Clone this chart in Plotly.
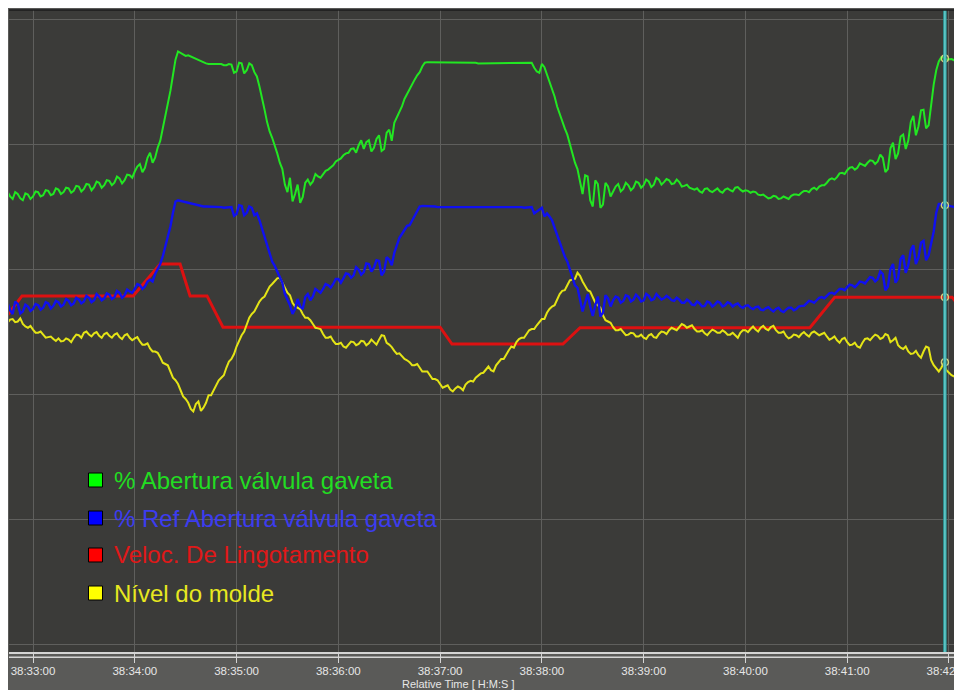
import plotly.graph_objects as go

# ---------------- data ----------------
# sample clock: seconds relative to 38:33:00. Main samples every 3 s
# (-15 .. 549) and in-between samples at +1.5 s (-13.5 .. 547.5).
time_s = list(range(-15, 550, 3))
time_mid = [t + 1.5 for t in time_s[:-1]]

abertura = [
    72.4, 71.2, 72.0, 71.0, 71.9, 71.6, 72.3, 71.8, 72.5, 72.0,
    72.7, 72.3, 72.9, 72.5, 73.2, 72.8, 73.5, 73.1, 73.8, 73.4,
    74.1, 73.8, 74.5, 74.2, 75.0, 75.6, 76.8, 76.2, 78.6, 77.8,
    80.5, 84.0, 88.5, 93.5, 94.6, 94.1, 94.0, 93.7, 93.3, 92.9,
    92.8, 92.7, 92.8, 92.6, 92.7, 91.6, 92.9, 91.8, 92.6, 90.8,
    87.5, 83.5, 81.0, 78.5, 76.0, 72.3, 70.8, 73.5, 71.5, 74.3,
    74.0, 74.8, 75.2, 75.9, 76.6, 77.5, 78.2, 78.6, 79.3, 79.8,
    79.2, 80.6, 79.4, 81.4, 79.2, 82.3, 83.4, 85.2, 87.2, 88.8,
    90.3, 91.5, 93.0, 93.1, 93.0, 93.1, 93.0, 93.1, 93.0, 93.0,
    93.1, 93.0, 93.0, 92.9, 93.0, 93.0, 93.0, 92.9, 93.0, 93.0,
    92.9, 93.0, 92.9, 93.0, 91.6, 92.8, 91.2, 89.0, 86.0, 83.5,
    81.5, 78.5, 76.0, 72.0, 74.8, 70.0, 73.6, 70.3, 73.2, 72.4,
    73.6, 72.8, 73.4, 73.0, 73.8, 73.4, 74.0, 73.5, 74.3, 73.9,
    74.2, 73.7, 73.9, 73.3, 73.0, 72.7, 72.4, 72.8, 72.5, 72.6,
    72.4, 72.7, 72.6, 73.0, 72.7, 72.6, 72.2, 72.3, 71.8, 71.6,
    71.4, 71.6, 71.3, 71.4, 71.7, 71.9, 72.2, 72.5, 72.8, 72.7,
    73.4, 73.8, 74.5, 74.7, 75.4, 75.8, 76.3, 76.2, 76.7, 77.0,
    77.3, 77.2, 77.8, 76.0, 80.2, 78.5, 81.5, 80.5, 84.5, 82.8,
    85.5, 83.0, 89.5, 93.2, 93.8, 93.6, 93.4, 93.0, 92.8,
]
abertura_mid = [
    71.6, 72.3, 71.3, 72.1, 71.2, 72.4, 71.6, 72.6, 71.8, 72.9,
    72.0, 73.0, 72.2, 73.3, 72.4, 73.6, 72.6, 74.0, 73.0, 74.2,
    73.4, 74.8, 73.7, 75.1, 74.6, 76.4, 75.5, 77.8, 77.0, 79.4,
    82.5, 86.0, 91.0, 94.8, 94.3, 94.2, 93.8, 93.5, 93.1, 92.8,
    92.8, 92.7, 92.6, 92.8, 91.4, 93.0, 91.3, 92.9, 91.5, 89.2,
    85.5, 82.0, 79.8, 77.0, 73.5, 74.6, 72.0, 70.6, 73.8, 73.5,
    75.2, 74.6, 75.7, 76.2, 77.2, 77.7, 78.5, 79.2, 78.6, 80.6,
    80.3, 78.8, 80.8, 78.9, 81.8, 80.5, 84.3, 86.0, 88.0, 89.7,
    91.0, 92.4, 93.1, 93.0, 93.1, 93.0, 93.1, 93.0, 93.0, 93.1,
    93.0, 93.0, 92.9, 93.0, 93.0, 92.9, 93.0, 93.0, 92.9, 93.0,
    93.0, 92.9, 93.0, 92.2, 91.4, 92.3, 90.0, 87.6, 84.8, 82.5,
    80.0, 77.0, 74.2, 75.0, 71.0, 74.2, 69.8, 73.8, 71.6, 73.2,
    72.4, 73.8, 72.6, 74.0, 73.0, 74.3, 73.1, 74.6, 73.5, 74.4,
    73.6, 74.3, 73.2, 73.5, 72.8, 72.9, 72.2, 72.9, 72.3, 72.9,
    72.2, 72.9, 72.4, 73.1, 72.4, 72.5, 72.4, 71.9, 71.9, 71.3,
    71.7, 71.2, 71.6, 71.2, 71.9, 71.8, 72.5, 72.3, 73.0, 73.2,
    73.4, 74.3, 74.3, 75.3, 75.2, 76.2, 75.9, 76.9, 76.5, 77.4,
    76.8, 78.3, 75.5, 79.3, 77.6, 81.2, 79.2, 83.5, 81.4, 85.4,
    82.5, 86.5, 91.8, 93.9, 93.5, 93.6, 93.2, 92.9,
]

ref_abertura = [
    54.6, 52.8, 54.4, 53.2, 54.0, 53.6, 54.2, 53.8, 54.5, 54.1,
    54.7, 54.3, 54.9, 54.5, 55.1, 54.8, 55.4, 55.0, 55.6, 55.3,
    55.9, 55.5, 56.2, 55.8, 56.4, 56.8, 57.4, 57.2, 58.3, 59.2,
    60.8, 63.5, 66.8, 70.8, 70.9, 70.6, 70.4, 70.3, 70.1, 70.0,
    69.9, 70.0, 69.9, 69.8, 69.9, 68.8, 70.1, 69.0, 69.8, 68.9,
    66.5, 63.5, 61.2, 59.6, 57.8, 55.0, 52.8, 55.2, 53.6, 56.0,
    55.6, 56.5, 56.8, 57.4, 57.6, 58.4, 58.5, 59.2, 59.0, 59.9,
    59.5, 60.8, 60.2, 61.3, 59.6, 61.5, 62.6, 65.0, 66.3, 67.0,
    68.4, 70.0, 70.1, 70.0, 70.0, 69.9, 70.0, 69.9, 69.9, 70.0,
    69.9, 69.9, 70.0, 69.9, 69.9, 69.9, 70.0, 69.9, 69.9, 69.9,
    69.9, 69.9, 69.8, 69.9, 69.2, 69.8, 68.9, 67.8, 65.5, 63.0,
    61.2, 58.5, 57.0, 53.2, 56.0, 52.5, 55.6, 53.0, 55.3, 55.0,
    55.4, 54.9, 55.6, 55.1, 55.5, 55.0, 55.7, 55.2, 55.6, 55.3,
    55.4, 54.9, 55.1, 54.6, 54.8, 54.2, 54.5, 54.1, 54.6, 54.3,
    54.6, 54.2, 54.5, 54.3, 54.0, 54.1, 53.8, 53.9, 53.5, 53.7,
    53.5, 53.6, 53.3, 53.5, 53.8, 53.6, 54.1, 54.5, 54.8, 55.0,
    55.5, 55.7, 56.2, 56.4, 56.8, 57.1, 57.4, 57.5, 57.9, 58.2,
    58.6, 58.4, 59.2, 57.2, 60.8, 58.5, 62.2, 60.6, 63.8, 61.8,
    64.5, 62.2, 66.0, 70.4, 70.2, 70.1, 69.9, 69.8, 69.7,
]
ref_abertura_mid = [
    53.4, 54.8, 52.9, 54.3, 53.3, 54.4, 53.5, 54.7, 53.7, 54.9,
    54.0, 55.2, 54.2, 55.4, 54.5, 55.7, 54.7, 56.0, 55.0, 56.1,
    55.2, 56.5, 55.4, 56.7, 56.2, 57.6, 56.8, 58.0, 58.0, 60.0,
    62.0, 65.4, 69.0, 71.0, 70.7, 70.5, 70.4, 70.2, 70.0, 70.0,
    69.9, 69.9, 69.8, 69.9, 68.5, 70.2, 68.6, 70.0, 68.6, 67.8,
    65.0, 62.2, 60.5, 58.6, 56.0, 54.2, 53.6, 54.0, 55.5, 55.0,
    56.8, 56.2, 57.6, 57.0, 58.4, 57.8, 59.3, 58.6, 60.3, 59.1,
    60.9, 59.6, 61.4, 59.0, 61.9, 60.6, 64.0, 65.6, 66.9, 67.8,
    69.4, 70.1, 70.0, 70.1, 69.9, 70.0, 69.9, 70.0, 69.9, 69.9,
    70.0, 69.9, 69.9, 70.0, 69.9, 69.9, 69.9, 70.0, 69.9, 69.9,
    69.9, 69.8, 69.9, 68.9, 69.6, 68.4, 68.4, 66.6, 64.2, 62.0,
    59.8, 57.4, 55.0, 54.6, 54.0, 54.2, 52.4, 55.8, 54.0, 55.6,
    54.6, 55.8, 54.8, 55.9, 54.8, 56.0, 55.0, 56.0, 55.1, 55.7,
    55.0, 55.4, 54.6, 55.1, 54.3, 54.8, 54.0, 54.8, 54.0, 54.8,
    54.0, 54.7, 54.0, 54.5, 53.8, 54.2, 53.6, 54.0, 53.4, 53.9,
    53.2, 53.8, 53.1, 53.8, 53.4, 54.0, 54.1, 54.9, 54.6, 55.4,
    55.3, 56.1, 56.0, 56.8, 56.6, 57.5, 57.1, 58.0, 57.7, 58.7,
    58.0, 59.6, 56.6, 60.0, 57.8, 61.6, 59.4, 63.0, 60.8, 64.2,
    61.4, 64.0, 69.0, 70.4, 70.1, 70.0, 69.8, 69.7,
]

nivel = [
    51.4, 52.0, 51.6, 51.2, 50.6, 50.3, 49.8, 49.5, 49.1, 48.8,
    48.9, 48.5, 48.7, 49.0, 49.4, 49.8, 49.5, 49.7, 49.3, 49.6,
    49.3, 49.5, 49.1, 49.4, 49.0, 48.9, 48.4, 47.9, 47.3, 46.8,
    45.9, 44.8, 43.6, 42.2, 40.6, 39.2, 37.6, 38.4, 37.3, 38.6,
    39.8, 41.3, 42.6, 44.2, 45.6, 47.6, 49.4, 51.2, 52.8, 54.0,
    55.3, 56.4, 57.6, 58.5, 57.8, 56.2, 54.6, 53.8, 52.8, 52.2,
    51.2, 50.5, 49.6, 49.0, 48.5, 48.0, 47.6, 47.9, 48.3, 48.0,
    48.4, 48.1, 48.3, 48.7, 49.3, 47.9, 46.9, 46.5, 45.6, 45.1,
    44.6, 44.2, 43.6, 43.0, 42.4, 41.6, 41.2, 40.7, 40.9, 41.0,
    41.5, 42.1, 42.6, 43.3, 44.0, 43.8, 44.6, 45.6, 46.4, 47.6,
    48.3, 49.0, 49.6, 50.4, 51.0, 52.0, 53.0, 54.0, 55.2, 56.5,
    57.4, 58.3, 59.4, 58.0, 56.6, 55.4, 54.2, 52.6, 51.6, 50.7,
    50.2, 49.9, 49.5, 49.7, 49.2, 49.0, 49.4, 49.1, 49.6, 49.9,
    50.2, 50.4, 50.7, 51.0, 50.8, 50.4, 50.0, 49.7, 49.9, 50.1,
    49.8, 49.9, 49.5, 49.4, 49.8, 50.2, 50.4, 50.3, 50.6, 50.4,
    50.7, 50.2, 49.8, 49.3, 49.1, 49.4, 49.6, 49.5, 49.8, 49.7,
    49.6, 49.2, 48.9, 48.6, 48.8, 48.3, 47.9, 47.6, 48.2, 48.9,
    49.1, 49.3, 49.0, 49.4, 48.6, 47.8, 47.2, 46.8, 46.5, 46.2,
    46.8, 47.4, 44.6, 43.6, 45.0, 43.4, 42.8, 42.6, 43.1,
]
nivel_mid = [
    51.9, 51.5, 52.1, 50.8, 50.9, 49.8, 50.0, 49.0, 49.2, 48.5,
    48.4, 48.9, 48.3, 49.5, 49.0, 50.0, 49.2, 49.9, 49.0, 49.8,
    49.0, 49.7, 48.8, 49.6, 48.6, 49.1, 47.9, 48.1, 46.8, 46.6,
    45.0, 44.6, 42.6, 41.6, 39.6, 38.6, 37.2, 38.8, 37.8, 39.8,
    40.6, 42.2, 43.0, 45.2, 46.4, 48.6, 50.0, 52.2, 53.2, 54.8,
    55.6, 57.2, 58.0, 58.6, 56.8, 55.8, 54.0, 53.6, 52.2, 51.8,
    50.6, 50.4, 49.0, 49.2, 48.0, 48.2, 47.4, 48.4, 47.8, 48.5,
    47.8, 48.7, 47.9, 49.4, 48.2, 47.5, 46.4, 46.0, 45.4, 44.6,
    44.8, 43.6, 43.6, 42.4, 42.2, 41.0, 41.4, 40.4, 41.2, 40.6,
    41.9, 42.0, 43.0, 43.4, 44.4, 43.6, 45.2, 45.6, 47.0, 47.4,
    48.8, 49.0, 50.2, 50.4, 51.6, 52.0, 53.6, 54.2, 56.0, 56.6,
    58.2, 58.4, 58.9, 57.2, 56.4, 54.6, 53.8, 51.8, 51.4, 50.2,
    50.4, 49.4, 49.8, 49.2, 49.5, 48.8, 49.6, 49.0, 50.0, 49.6,
    50.6, 50.2, 51.2, 50.6, 51.0, 50.0, 50.2, 49.4, 50.3, 49.8,
    50.2, 49.5, 49.8, 49.0, 50.2, 49.9, 50.8, 50.0, 50.9, 50.2,
    50.9, 49.8, 50.0, 48.9, 49.5, 49.1, 49.9, 49.2, 50.0, 49.4,
    49.8, 48.7, 49.2, 48.2, 49.0, 47.8, 48.2, 47.4, 48.8, 48.6,
    49.5, 48.8, 49.6, 48.3, 49.0, 47.4, 47.6, 46.4, 46.9, 45.8,
    47.6, 45.4, 44.0, 44.2, 43.8, 43.0, 43.2, 42.4,
]

# casting speed is a stepped signal: breakpoints (s, value)
veloc_t = [-15, -6.5, 59, 75, 86.7, 92.6, 102.6, 112, 240, 247, 312.4,
           322.5, 458, 472.7, 541.8, 549]
veloc = [52.6, 55.7, 55.7, 60.8, 60.8, 55.7, 55.7, 50.7, 50.7, 48.0, 48.0,
         50.6, 50.6, 55.5, 55.5, 53.0]

series_names = ["% Abertura válvula gaveta", "% Ref Abertura válvula gaveta",
                "Veloc. De Lingotamento", "Nível do molde"]

tick_vals = [0, 60, 120, 180, 240, 300, 360, 420, 480, 540]
tick_text = ["38:33:00", "38:34:00", "38:35:00", "38:36:00", "38:37:00",
             "38:38:00", "38:39:00", "38:40:00", "38:41:00", "38:42:00"]

cursor_t = 537.6
cursor_values = [93.7, 70.2, 55.5, 45.1]

for s in (abertura, ref_abertura, nivel):
    assert len(s) == len(time_s), (len(s), len(time_s))
for s in (abertura_mid, ref_abertura_mid, nivel_mid):
    assert len(s) == len(time_mid), (len(s), len(time_mid))


def merge(main, mid):
    """Interleave the 3-s samples with the in-between samples."""
    xs, ys = [], []
    for i, t in enumerate(time_s):
        xs.append(t)
        ys.append(main[i])
        if i < len(time_mid):
            xs.append(time_mid[i])
            ys.append(mid[i])
    return xs, ys


# ---------------- styling ----------------
line_colors = ["#22e622", "#1010f0", "#dd1111", "#e4e416"]
text_colors = ["#22dd22", "#3c3cf0", "#e01818", "#e8e820"]
box_colors = ["#00ff00", "#0000ff", "#ff0000", "#ffff00"]
line_widths = [2, 2.4, 3, 2]

fig = go.Figure()

xr, yr = merge(abertura, abertura_mid)
xb, yb = merge(ref_abertura, ref_abertura_mid)
xy, yy = merge(nivel, nivel_mid)

# draw order: red, yellow, blue, green
fig.add_trace(go.Scatter(x=veloc_t, y=veloc, mode="lines", name=series_names[2],
                         line=dict(color=line_colors[2], width=line_widths[2])))
fig.add_trace(go.Scatter(x=xy, y=yy, mode="lines", name=series_names[3],
                         line=dict(color=line_colors[3], width=line_widths[3])))
fig.add_trace(go.Scatter(x=xb, y=yb, mode="lines", name=series_names[1],
                         line=dict(color=line_colors[1], width=line_widths[1])))
fig.add_trace(go.Scatter(x=xr, y=yr, mode="lines", name=series_names[0],
                         line=dict(color=line_colors[0], width=line_widths[0])))

# cursor line
fig.add_shape(type="line", xref="x", yref="paper", x0=cursor_t, x1=cursor_t,
              y0=0, y1=1, line=dict(color="#2f9c9c", width=3.5), layer="above")
fig.add_shape(type="line", xref="x", yref="paper", x0=cursor_t, x1=cursor_t,
              y0=0, y1=1, line=dict(color="#6fd6d6", width=1.2), layer="above")

fig.add_trace(go.Scatter(x=[cursor_t] * 4, y=cursor_values, mode="markers",
                         marker=dict(symbol="circle-open", size=7,
                                     color="#d2d282", line=dict(width=1.5)),
                         hoverinfo="skip"))

# top dark border + second light axis line
fig.add_shape(type="line", xref="paper", yref="paper", x0=0, x1=1, y0=1, y1=1,
              line=dict(color="#1c1c1c", width=1.5), layer="above")
fig.add_shape(type="line", xref="paper", yref="paper", x0=0, x1=1,
              y0=-5.2 / 642, y1=-5.2 / 642,
              line=dict(color="#d4d4d4", width=1.5), layer="above")

# custom legend
legend_y = [0.2679, 0.2087, 0.1511, 0.0919]
for i, name in enumerate(series_names):
    fig.add_shape(type="rect", xref="paper", yref="paper",
                  xsizemode="pixel", ysizemode="pixel",
                  xanchor=0.0900, yanchor=legend_y[i],
                  x0=-7, x1=7, y0=-7, y1=7,
                  fillcolor=box_colors[i], line=dict(color="#000000", width=1))
    fig.add_annotation(x=0.1068, y=legend_y[i], xref="paper", yref="paper",
                       xanchor="left", yanchor="middle", showarrow=False,
                       text=name, font=dict(size=24, color=text_colors[i],
                                            family="Liberation Sans, Arial"))

fig.add_annotation(x=0.467, y=-0.0498, xref="paper", yref="paper",
                   xanchor="center", yanchor="middle", showarrow=False,
                   text="Relative Time [ H:M:S ]",
                   font=dict(size=11, color="#e6e6e6", family="Liberation Sans, Arial"))

fig.update_layout(
    width=962, height=690,
    margin=dict(l=1, r=0, t=2, b=46),
    paper_bgcolor="#5a5a58",
    plot_bgcolor="#3b3b39",
    showlegend=False,
    font=dict(family="Liberation Sans, Arial", color="#e6e6e6"),
)
fig.update_xaxes(range=[-14.15, 552.4], tickvals=tick_vals, ticktext=tick_text,
                 showgrid=True, gridcolor="#5f5f5d", gridwidth=1,
                 ticks="outside", ticklen=9, tickcolor="#d4d4d4", tickwidth=1,
                 tickfont=dict(size=11.5, color="#e6e6e6"),
                 ticklabelstandoff=-2,
                 showline=True, linecolor="#d4d4d4", linewidth=2,
                 zeroline=False, ticklabeloverflow="allow")
fig.update_yaxes(range=[-1.28, 101.44], tickvals=[0, 20, 40, 60, 80, 100],
                 showticklabels=False, showgrid=True, gridcolor="#5f5f5d",
                 gridwidth=1, zeroline=False, showline=False, ticks="")

fig.write_html(
    "out.html",
    post_script="document.documentElement.style.overflow='hidden';"
                "document.body.style.overflow='hidden';",
)
